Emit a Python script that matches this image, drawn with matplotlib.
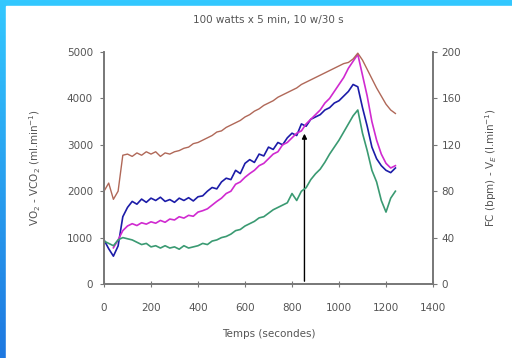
import matplotlib.pyplot as plt
import numpy as np
from matplotlib.patches import Rectangle
from matplotlib.colors import LinearSegmentedColormap

# temps (s), un point toutes les 20 s
temps = [0, 20, 40, 60, 80, 100, 120, 140, 160, 180, 200, 220, 240, 260, 280, 300,
         320, 340, 360, 380, 400, 420, 440, 460, 480, 500, 520, 540, 560, 580, 600,
         620, 640, 660, 680, 700, 720, 740, 760, 780, 800, 820, 840, 860, 880, 900,
         920, 940, 960, 980, 1000, 1020, 1040, 1060, 1080, 1100, 1120, 1140, 1160,
         1180, 1200, 1220, 1240]

# VO2 (ml/min)
vo2 = [950, 760, 600, 820, 1450, 1650, 1780, 1720, 1830, 1760, 1850, 1800, 1870, 1780,
       1820, 1760, 1850, 1800, 1860, 1790, 1880, 1900, 2000, 2080, 2050, 2200, 2280,
       2250, 2450, 2380, 2600, 2680, 2620, 2800, 2760, 2950, 2900, 3050, 3000, 3150,
       3250, 3200, 3450, 3400, 3550, 3600, 3650, 3750, 3800, 3900, 3950, 4050, 4150,
       4300, 4250, 3800, 3400, 2950, 2700, 2550, 2450, 2400, 2500]

# VCO2 (ml/min)
vco2 = [np.nan, np.nan, 780, 950, 1150, 1250, 1300, 1260, 1320, 1290, 1340, 1310, 1370,
        1330, 1400, 1380, 1450, 1420, 1480, 1460, 1550, 1580, 1620, 1700, 1780, 1850,
        1950, 2000, 2150, 2200, 2300, 2380, 2450, 2550, 2600, 2700, 2800, 2850, 3000,
        3050, 3150, 3250, 3300, 3450, 3550, 3650, 3750, 3900, 4000, 4150, 4300, 4450,
        4650, 4800, 4950, 4500, 4050, 3500, 3100, 2800, 2600, 2500, 2550]

# FC (bpm)
fc = [80, 87, 73, 80, 111, 112, 110, 113, 111, 114, 112, 114, 110, 113, 112, 114, 115,
      117, 118, 121, 122, 124, 126, 128, 131, 132, 135, 137, 139, 141, 144, 146, 149,
      151, 154, 156, 158, 161, 163, 165, 167, 169, 172, 174, 176, 178, 180, 182, 184,
      186, 188, 190, 191, 194, 199, 193, 185, 177, 169, 162, 155, 150, 147]

# VE (l/min)
ve = [37, 35, 33, 38, 40, 39, 38, 36, 34, 35, 32, 33, 31, 33, 31, 32, 30, 33, 31, 32,
      33, 35, 34, 37, 38, 40, 41, 43, 46, 47, 50, 52, 54, 57, 58, 61, 64, 66, 68, 70,
      78, 72, 80, 83, 90, 95, 99, 105, 112, 118, 124, 131, 138, 145, 150, 130, 115, 98,
      88, 72, 62, 74, 80]

fleche_t = 853
fleche_y = 3300

fig = plt.figure(figsize=(5.12, 3.58), dpi=100)

# cadre bleu (dégradé à gauche, bande en haut)
bg = fig.add_axes([0, 0, 1, 1])
grad = np.linspace(0, 1, 256).reshape(-1, 1)
cmap = LinearSegmentedColormap.from_list('bord', ['#33c8ff', '#1e78e0'])
bg.imshow(grad, aspect='auto', cmap=cmap, extent=[0, 1, 0, 1], origin='upper')
bg.add_patch(Rectangle((6 / 512, 0), 1, 1 - 6 / 358, color='white', transform=bg.transAxes))
bg.axis('off')

ax = fig.add_axes([104 / 512, 1 - 284 / 358, 329 / 512, 232 / 358])
ax.set_facecolor('none')
ax2 = ax.twinx()

grey = '#555555'
ax.plot(temps, vo2, color='#1c1ca8', lw=1.2)
ax.plot(temps, vco2, color='#d02ad0', lw=1.2)
ax2.plot(temps, fc, color='#b06858', lw=1.0)
ax2.plot(temps, ve, color='#3a9a72', lw=1.2)

ax.annotate('', xy=(fleche_t, fleche_y), xytext=(fleche_t, 0),
            arrowprops=dict(arrowstyle='-|>', color='black', lw=1.0, mutation_scale=7))

ax.set_xlim(0, 1400)
ax.set_ylim(0, 5000)
ax2.set_ylim(0, 200)
ax.set_xticks(range(0, 1401, 200))
ax.set_yticks(range(0, 5001, 1000))
ax2.set_yticks(range(0, 201, 40))

for a in (ax, ax2):
    for s in a.spines.values():
        s.set_color('#777777')
        s.set_linewidth(1.2)
    a.spines['top'].set_visible(False)
ax.tick_params(axis='y', direction='out', length=3, colors='#777777', labelcolor=grey, labelsize=7.5, pad=5)
ax.tick_params(axis='x', direction='inout', length=5, colors='#777777', labelcolor=grey, labelsize=7.5, pad=11)
ax2.tick_params(axis='y', direction='out', length=3, colors='#777777', labelcolor=grey, labelsize=7.5, pad=3)

ax.set_title('100 watts x 5 min, 10 w/30 s', fontsize=7.5, color=grey, pad=21)
ax.set_xlabel('Temps (secondes)', fontsize=7.5, color=grey, labelpad=12)
ax.set_ylabel('VO$_2$ - VCO$_2$ (ml.min$^{-1}$)', fontsize=7.5, color=grey, labelpad=17)
ax2.set_ylabel('FC (bpm) - V$_E$ (l.min$^{-1}$)', fontsize=7.5, color=grey, labelpad=16)

fig.savefig('out.png', dpi=100)
